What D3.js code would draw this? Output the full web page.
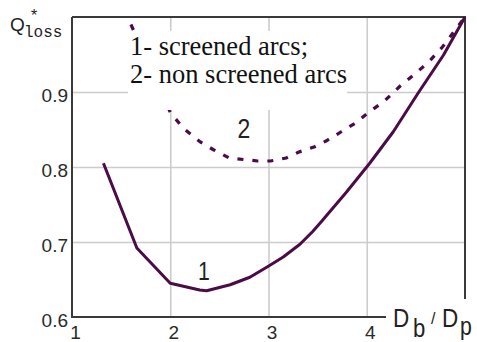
<!DOCTYPE html>
<html>
<head>
<meta charset="utf-8">
<script src="https://cdn.jsdelivr.net/npm/d3@7"></script>
<style>
  html, body { margin: 0; padding: 0; background: #fff; }
  svg { display: block; }
</style>
</head>
<body>
<svg id="chart" width="477" height="342"></svg>
<script>
// Relative loss Q*loss versus diameter ratio Db/Dp
const xTicks = [1, 2, 3, 4];
const yTicks = [0.6, 0.7, 0.8, 0.9];
const xGrid = [2, 3, 4];
const yGrid = [0.7, 0.8, 0.9];

// curve 1: screened arcs
const screenedX = [1.32, 1.66, 2.0, 2.3, 2.37, 2.61, 2.81, 2.99, 3.15, 3.32, 3.45, 3.55, 3.79, 4.03, 4.27, 4.53, 4.78, 5.0];
const screenedQ = [0.805, 0.692, 0.645, 0.636, 0.635, 0.643, 0.653, 0.667, 0.680, 0.697, 0.714, 0.729, 0.766, 0.805, 0.847, 0.9, 0.949, 1.0];

// curve 2: non screened arcs
const openX = [1.6, 2.0, 2.13, 2.31, 2.44, 2.6, 2.89, 3.02, 3.18, 3.31, 3.47, 3.59, 3.74, 3.89, 4.01, 4.18, 4.34, 4.48, 4.63, 4.77, 4.88, 5.0];
const openQ = [0.99, 0.873, 0.852, 0.833, 0.823, 0.812, 0.808, 0.808, 0.812, 0.82, 0.827, 0.835, 0.847, 0.859, 0.872, 0.888, 0.908, 0.923, 0.94, 0.96, 0.979, 1.0];

const legendLines = ["1- screened arcs;", "2- non screened arcs"];

const SANS = "Liberation Sans";
const SERIF = "Liberation Serif";
const MONO = "Liberation Mono";

const svg = d3.select("#chart");
const plotL = 72, plotR = 465, plotT = 17, plotB = 317;
const curveColor = "#4a0b47";

const x = d3.scaleLinear().domain([1, 5]).range([plotL, plotR]);
const y = d3.scaleLinear().domain([0.6, 1.0]).range([plotB, plotT]);

// grid
const gx = svg.append("g").attr("transform", `translate(0,${plotB})`)
  .call(d3.axisBottom(x).tickValues(xGrid).tickSize(-(plotB - plotT)).tickFormat(""));
const gy = svg.append("g").attr("transform", `translate(${plotL},0)`)
  .call(d3.axisLeft(y).tickValues(yGrid).tickSize(-(plotR - plotL)).tickFormat(""));
[gx, gy].forEach(g => {
  g.select(".domain").remove();
  g.selectAll(".tick line").attr("stroke", "#cccccc").attr("stroke-width", 1.6);
});

// frame
const frame = svg.append("g").attr("stroke", "#3a3a3a").attr("stroke-width", 2).attr("fill", "none");
frame.append("line").attr("x1", plotL).attr("x2", plotR + 1).attr("y1", plotT).attr("y2", plotT);
frame.append("line").attr("x1", plotR).attr("x2", plotR).attr("y1", plotT).attr("y2", 299);
frame.append("line").attr("x1", plotL).attr("x2", plotL).attr("y1", plotT).attr("y2", plotB + 1);
frame.append("line").attr("x1", plotL).attr("x2", 386).attr("y1", plotB).attr("y2", plotB);

// tick labels
const xa = svg.append("g").attr("transform", `translate(3,${plotB})`)
  .call(d3.axisBottom(x).tickValues(xTicks).tickSize(0).tickPadding(0).tickFormat(d3.format("d")));
xa.select(".domain").remove();
xa.selectAll("text").attr("dy", null).attr("y", 22);

const ya = svg.append("g").attr("transform", `translate(${plotL - 4},0)`)
  .call(d3.axisLeft(y).tickValues(yTicks).tickSize(0).tickPadding(0).tickFormat(d3.format(".1f")));
ya.select(".domain").remove();
ya.selectAll("text").attr("dy", null).attr("y", 9.3);

[xa, ya].forEach(g => {
  g.attr("font-family", null).attr("font-size", null);
  g.selectAll("text")
    .style("font-family", SANS)
    .style("font-size", "19px")
    .attr("fill", "#2a2a2a");
});

// curves
const line = d3.line().x(d => x(d[0])).y(d => y(d[1]));

svg.append("path")
  .datum(d3.zip(openX, openQ))
  .attr("d", line)
  .attr("fill", "none")
  .attr("stroke", curveColor)
  .attr("stroke-width", 3.2)
  .attr("stroke-dasharray", "6,9");

svg.append("path")
  .datum(d3.zip(screenedX, screenedQ))
  .attr("d", line)
  .attr("fill", "none")
  .attr("stroke", curveColor)
  .attr("stroke-width", 3)
  .attr("stroke-linejoin", "round");

// legend box
svg.append("rect").attr("x", 128).attr("y", 31).attr("width", 219).attr("height", 79).attr("fill", "#fff");
svg.append("g").selectAll("text").data(legendLines).join("text")
  .attr("x", 130)
  .attr("y", (d, i) => 55 + i * 28)
  .style("font-family", SERIF)
  .style("font-size", "26.5px")
  .attr("fill", "#111")
  .text(d => d);

// curve labels
svg.append("text").attr("transform", "translate(204,280) scale(0.85,1)")
  .attr("text-anchor", "middle").style("font-family", SANS).style("font-size", "25px").attr("fill", "#222").text("1");
svg.append("text").attr("transform", "translate(244,138) scale(0.85,1)")
  .attr("text-anchor", "middle").style("font-family", SANS).style("font-size", "27px").attr("fill", "#222").text("2");

// axis titles
svg.append("text").attr("x", 10).attr("y", 31).style("font-family", SANS).style("font-size", "19px").attr("fill", "#222").text("Q");
svg.append("text").attr("x", 24).attr("y", 37).style("font-family", MONO).style("font-size", "16px").attr("fill", "#222").text("loss");
svg.append("text").attr("x", 34).attr("y", 21).attr("text-anchor", "middle").style("font-family", SANS).style("font-size", "16px").attr("fill", "#222").text("*");

const xt = svg.append("g").attr("fill", "#222");
const titleParts = [
  { t: "D", tr: "translate(393,327) scale(0.9,1)", fs: 25 },
  { t: "b", tr: "translate(413,337) scale(0.85,1)", fs: 26 },
  { t: "/", tr: "translate(431,324)", fs: 16 },
  { t: "D", tr: "translate(442,327) scale(0.9,1)", fs: 25 },
  { t: "p", tr: "translate(460,335) scale(0.85,1)", fs: 25 }
];
titleParts.forEach(p => xt.append("text").attr("transform", p.tr)
  .style("font-family", SANS).style("font-size", p.fs + "px").text(p.t));
</script>
</body>
</html>
